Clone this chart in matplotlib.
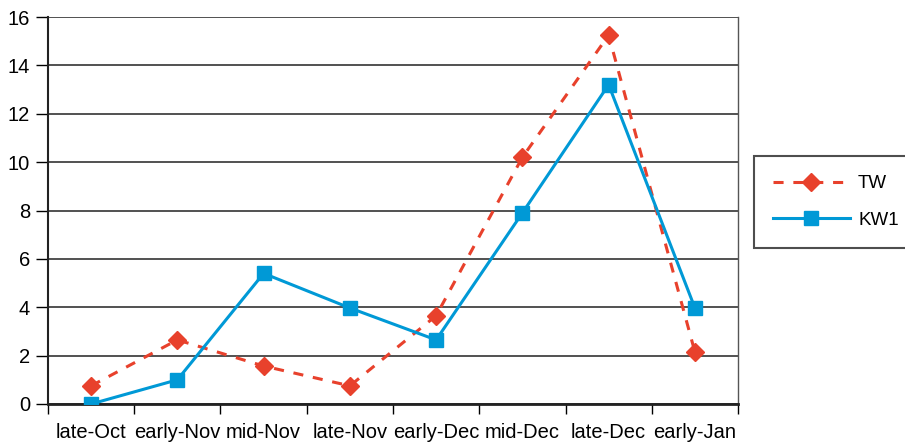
import numpy as np
import matplotlib.pyplot as plt

plt.rcParams['font.family'] = ['Liberation Sans', 'DejaVu Sans']

periods = ["late-Oct", "early-Nov", "mid-Nov", "late-Nov",
           "early-Dec", "mid-Dec", "late-Dec", "early-Jan"]
tw = [0.75, 2.65, 1.57, 0.75, 3.65, 10.2, 15.25, 2.15]
kw1 = [0.0, 1.0, 5.4, 3.97, 2.65, 7.9, 13.2, 3.97]

red = "#e8412c"
blue = "#0099d6"

fig = plt.figure(figsize=(9.05, 4.42), dpi=100)
ax = fig.add_axes([0.053, 0.086, 0.7625, 0.8755])

x = np.arange(len(periods))
ax.plot(x, tw, color=red, linestyle=(0, (3.3, 3.2)), linewidth=2.2,
        marker='D', markersize=9, label="TW", zorder=3)
ax.plot(x, kw1, color=blue, linestyle='-', linewidth=2.2,
        marker='s', markersize=10.5, label="KW1", zorder=4)

ax.set_xlim(-0.5, len(periods) - 0.5)
ax.set_ylim(0, 16)
ax.set_yticks(np.arange(0, 17, 2))
ax.yaxis.grid(True, color='#333333', linewidth=1.2)
ax.set_axisbelow(True)

ax.set_xticks(x)
ax.set_xticklabels(periods)
ax.set_xticks(np.arange(-0.5, len(periods), 1), minor=True)
ax.tick_params(axis='x', which='major', length=0, pad=14, labelsize=14.5)
ax.tick_params(axis='x', which='minor', length=7, width=1, direction='out')
ax.tick_params(axis='y', length=9, width=1, direction='out', pad=4, labelsize=14.5)

for s in ['left', 'bottom']:
    ax.spines[s].set_color('#222222')
ax.spines['left'].set_linewidth(1.5)
ax.spines['bottom'].set_linewidth(2)
ax.spines['right'].set_color('#555555')
ax.spines['right'].set_linewidth(1)
ax.spines['top'].set_visible(False)

leg = fig.legend(loc='center left', bbox_to_anchor=(754 / 905, 1 - 202 / 442),
                 frameon=True, fancybox=False, edgecolor='#222222',
                 fontsize=13.5, handlelength=4.1, borderpad=1.0, labelspacing=1.05,
                 handletextpad=0.45, borderaxespad=0)
leg.get_frame().set_linewidth(1.5)

fig.savefig("out.png", dpi=100)
